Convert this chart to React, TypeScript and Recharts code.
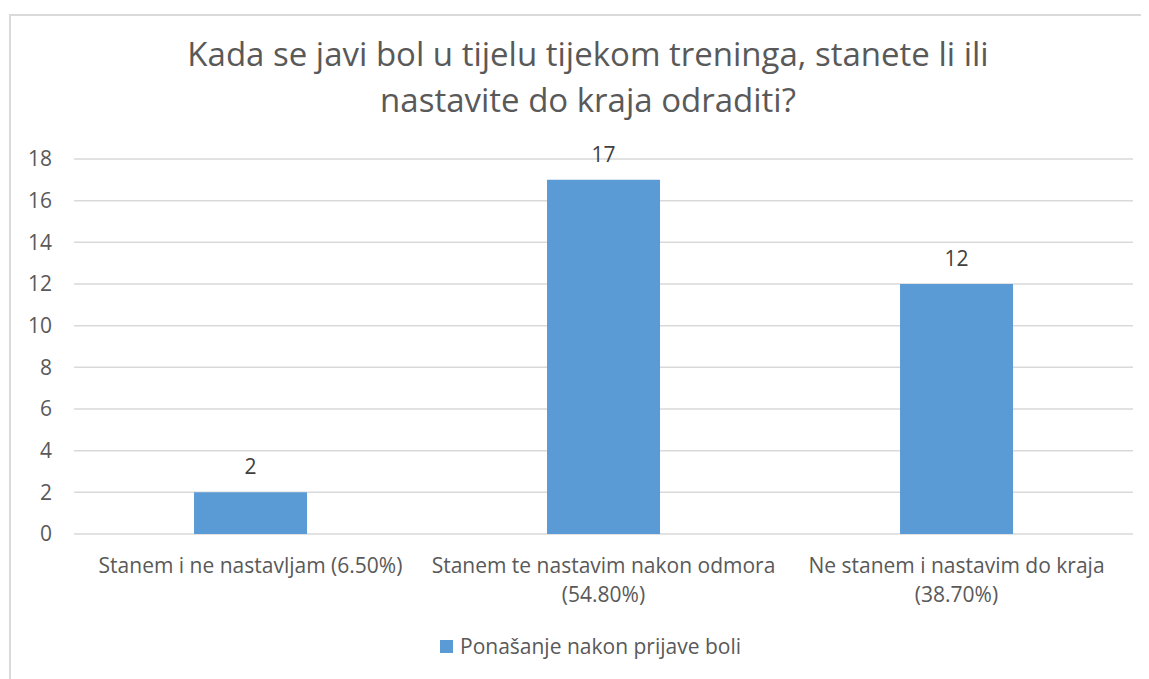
import React from "react";
import { BarChart, Bar, XAxis, YAxis, CartesianGrid, Legend, LabelList } from "recharts";

const titleLines = [
  "Kada se javi bol u tijelu tijekom treninga, stanete li ili",
  "nastavite do kraja odraditi?",
];
const categories = [
  "Stanem i ne nastavljam (6.50%)",
  "Stanem te nastavim nakon odmora (54.80%)",
  "Ne stanem i nastavim do kraja (38.70%)",
];
const values = [2, 17, 12];
const seriesName = "Ponašanje nakon prijave boli";
const yTicks = [0, 2, 4, 6, 8, 10, 12, 14, 16, 18];

const data = categories.map((c, i) => ({ name: c, value: values[i] }));

const FONT = "'Open Sans', sans-serif";
const GRAY = "#595959";
const BLUE = "#5B9BD5";
const FS = 21;
const MAX_CHARS = 31;

function wrapWords(s: string, max: number): string[] {
  const words = s.split(" ");
  const lines: string[] = [];
  let cur = "";
  for (const w of words) {
    const next = cur ? cur + " " + w : w;
    if (next.length > max && cur) {
      lines.push(cur);
      cur = w;
    } else {
      cur = next;
    }
  }
  if (cur) lines.push(cur);
  return lines;
}

const XTick = (props: any) => {
  const { x, y, payload } = props;
  const lines = wrapWords(String(payload.value), MAX_CHARS);
  return (
    <text
      x={x}
      y={y}
      textAnchor="middle"
      fill={GRAY}
      fontSize={FS}
      fontFamily={FONT}
    >
      {lines.map((l, i) => (
        <tspan key={i} x={x} dy={i === 0 ? "0.9em" : 29}>
          {l}
        </tspan>
      ))}
    </text>
  );
};

const LegendContent = (props: any) => {
  const { payload } = props;
  return (
    <div style={{ display: "flex", justifyContent: "center", alignItems: "center" }}>
      {(payload || []).map((p: any, i: number) => (
        <div key={i} style={{ display: "flex", alignItems: "center" }}>
          <div style={{ width: 13, height: 13, background: p.color, marginRight: 7 }} />
          <span style={{ color: GRAY, fontSize: FS, fontFamily: FONT }}>{p.value}</span>
        </div>
      ))}
    </div>
  );
};

export default function App() {
  return (
    <div style={{ position: "relative", width: 1141, height: 671, fontFamily: FONT }}>
      <div
        style={{
          position: "absolute",
          left: 1,
          top: 6,
          width: 1140,
          height: 665,
          borderLeft: "2px solid #dadada",
          borderTop: "2px solid #dadada",
          boxSizing: "border-box",
        }}
      />
      <div
        style={{
          position: "absolute",
          left: 80,
          top: 23,
          width: 1000,
          textAlign: "center",
          color: GRAY,
          fontSize: 33,
          lineHeight: "46px",
          fontFamily: FONT,
        }}
      >
        {titleLines.map((l, i) => (
          <div key={i}>{l}</div>
        ))}
      </div>
      <div style={{ position: "absolute", left: 0, top: 0 }}>
        <BarChart
          width={1141}
          height={671}
          data={data}
          margin={{ top: 151, right: 16, bottom: 65, left: 10 }}
          barCategoryGap="34%"
        >
          <CartesianGrid vertical={false} stroke="#d9d9d9" strokeWidth={1.5} />
          <XAxis
            dataKey="name"
            axisLine={false}
            tickLine={false}
            height={80}
            tick={<XTick />}
            tickMargin={14}
            interval={0}
          />
          <YAxis
            width={56}
            domain={[0, 18]}
            ticks={yTicks}
            axisLine={false}
            tickLine={false}
            tickSize={0}
            tickMargin={22}
            tick={{ fill: GRAY, fontSize: FS, fontFamily: FONT }}
            interval={0}
          />
          <Legend
            verticalAlign="middle"
            align="center"
            layout="horizontal"
            wrapperStyle={{ top: 624, left: 12, width: 1141 }}
            content={<LegendContent />}
          />
          <Bar dataKey="value" name={seriesName} fill={BLUE} isAnimationActive={false}>
            <LabelList
              dataKey="value"
              position="top"
              offset={18}
              fill="#404040"
              fontSize={FS}
              fontFamily={FONT}
            />
          </Bar>
        </BarChart>
      </div>
    </div>
  );
}
